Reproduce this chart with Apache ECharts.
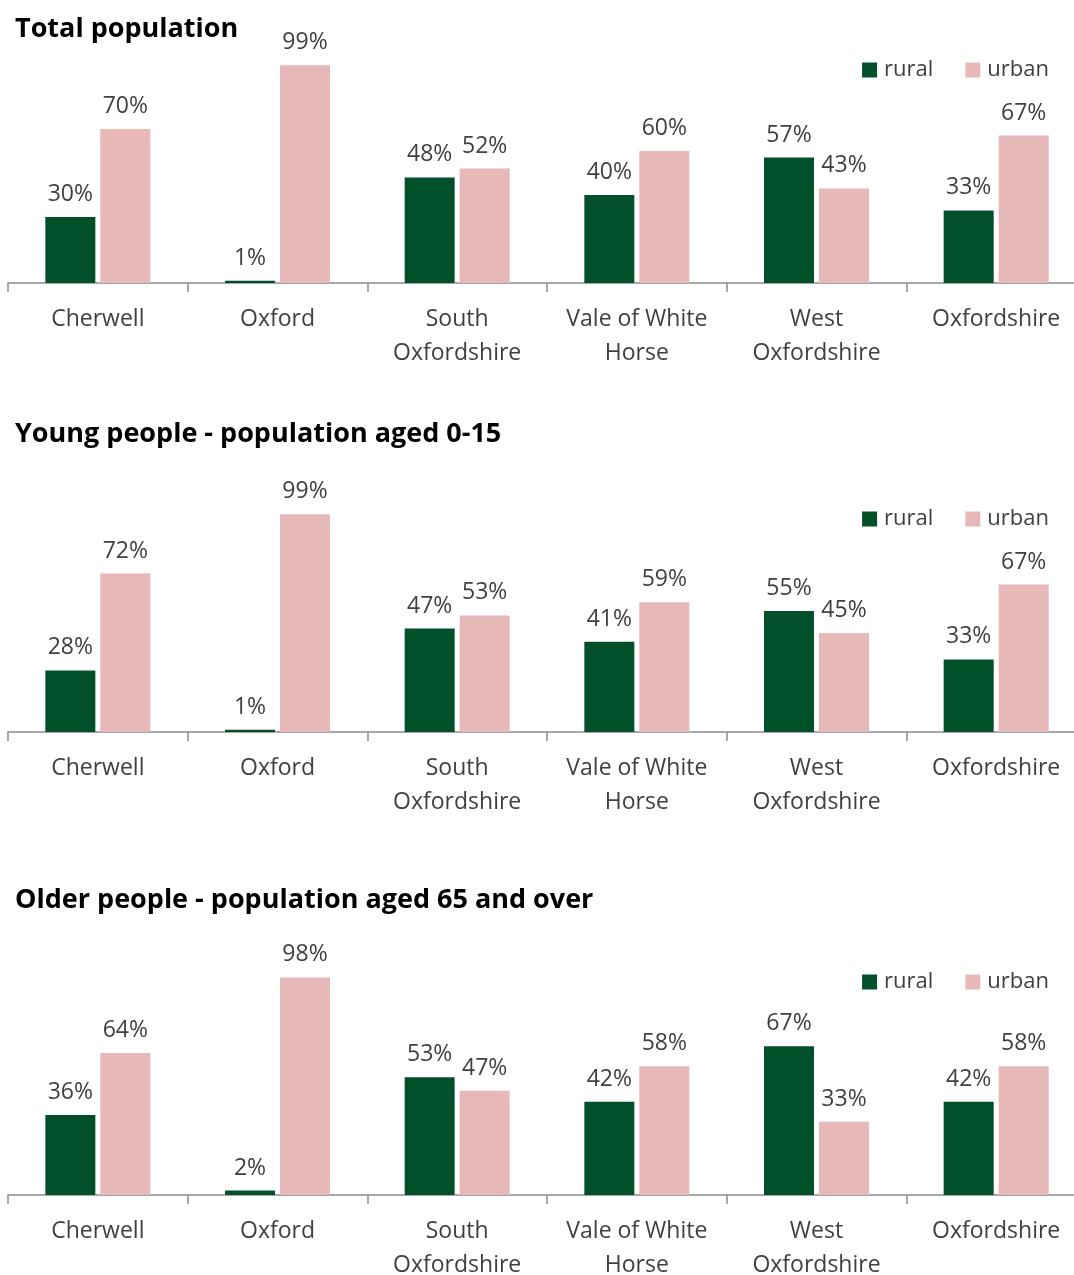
<!DOCTYPE html>
<html>
<head>
<meta charset="utf-8">
<title>Rural and urban population shares, Oxfordshire districts</title>
<script src="https://cdn.jsdelivr.net/npm/echarts@6/dist/echarts.min.js"></script>
<style>
  html, body { margin: 0; padding: 0; background: #ffffff; }
  #chart { width: 1074px; height: 1275px; }
</style>
</head>
<body>
<div id="chart"></div>
<script>
// Districts shown along each axis
const districts = ['Cherwell', 'Oxford', 'South\nOxfordshire', 'Vale of White\nHorse', 'West\nOxfordshire', 'Oxfordshire'];

// Panel headings
const panelTitles = [
  'Total population',
  'Young people - population aged 0-15',
  'Older people - population aged 65 and over'
];

// Share of residents living in rural / urban areas (%)
const totalRural = [30, 1, 48, 40, 57, 33];
const totalUrban = [70, 99, 52, 60, 43, 67];

const youngRural = [28, 1, 47, 41, 55, 33];
const youngUrban = [72, 99, 53, 59, 45, 67];

const olderRural = [36, 2, 53, 42, 67, 42];
const olderUrban = [64, 98, 47, 58, 33, 58];

const seriesNames = ['rural', 'urban'];

const panels = [
  { rural: totalRural, urban: totalUrban },
  { rural: youngRural, urban: youngUrban },
  { rural: olderRural, urban: olderUrban }
];

// Layout of each panel: plot top, plot height, heading centre, legend centre
const layout = [
  { top: 63,  height: 220, titleY: 27,  legendY: 67 },
  { top: 512, height: 220, titleY: 432, legendY: 516 },
  { top: 973, height: 222, titleY: 898, legendY: 979 }
];

const GREEN = '#02502a';
const PINK = '#e6b8b7';
const TEXT = '#404040';
const FONT = '"Open Sans", "Noto Sans", sans-serif';

const option = {
  backgroundColor: '#ffffff',
  animation: false,
  textStyle: { fontFamily: FONT },
  title: [],
  legend: [],
  grid: [],
  xAxis: [],
  yAxis: [],
  series: []
};

layout.forEach((L, i) => {
  option.title.push({
    text: panelTitles[i],
    left: 10,
    top: L.titleY - 16,
    textStyle: { fontFamily: FONT, fontSize: 27, fontWeight: 'bold', color: '#000000' }
  });
  option.legend.push({
    data: seriesNames.map(n => ({ name: n, icon: 'rect' })),
    right: 20,
    top: L.legendY - 13,
    itemWidth: 15,
    itemHeight: 15,
    itemGap: 32,
    textStyle: { fontFamily: FONT, fontSize: 22, color: TEXT, padding: [0, 0, 0, 2] }
  });
  // the plot runs slightly past the right edge of the canvas
  option.grid.push({
    left: 8,
    width: 1078,
    top: L.top,
    height: L.height,
    containLabel: false,
    outerBoundsMode: 'none'
  });
  option.xAxis.push({
    type: 'category',
    gridIndex: i,
    data: districts,
    axisLine: { show: true, lineStyle: { color: '#8c8c8c', width: 1.5 } },
    axisTick: { show: true, length: 9, lineStyle: { color: '#8c8c8c', width: 1.5 } },
    axisLabel: {
      interval: 0,
      margin: 19,
      fontFamily: FONT,
      fontSize: 23,
      lineHeight: 34,
      color: TEXT
    }
  });
  option.yAxis.push({
    type: 'value',
    gridIndex: i,
    min: 0,
    max: 100,
    show: false,
    splitLine: { show: false }
  });
  seriesNames.forEach((name, k) => {
    option.series.push({
      name: name,
      type: 'bar',
      xAxisIndex: i,
      yAxisIndex: i,
      data: panels[i][name],
      barWidth: 50,
      barGap: '10%',
      itemStyle: { color: k === 0 ? GREEN : PINK },
      label: {
        show: true,
        position: 'top',
        distance: 11,
        formatter: p => p.value + '%',
        fontFamily: FONT,
        fontSize: 23,
        color: TEXT
      }
    });
  });
});

const chart = echarts.init(document.getElementById('chart'), null, { renderer: 'canvas' });
chart.setOption(option);
</script>
</body>
</html>
